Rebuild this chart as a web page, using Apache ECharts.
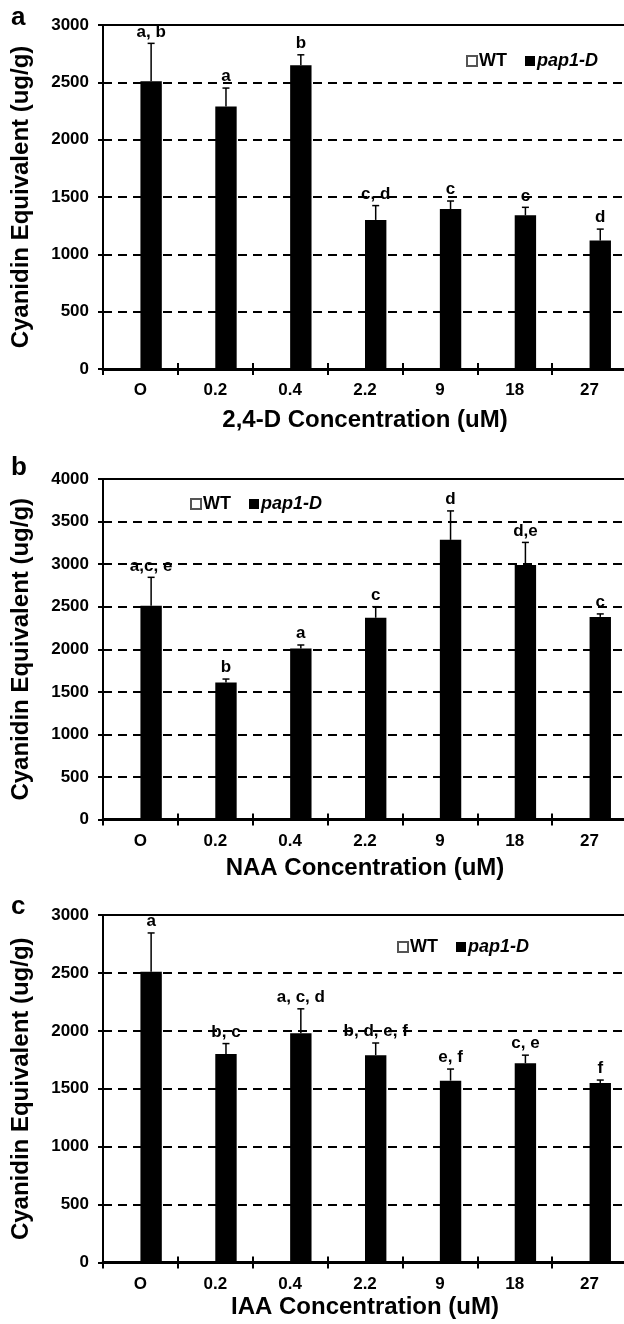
<!DOCTYPE html>
<html>
<head>
<meta charset="utf-8">
<script src="https://cdn.jsdelivr.net/npm/echarts@6/dist/echarts.min.js"></script>
<style>
html,body{margin:0;padding:0;background:#fff;}
#c{width:624px;height:1324px;}
</style>
</head>
<body>
<div id="c"></div>
<script>
// ---- data ----
const categories = ['O', '0.2', '0.4', '2.2', '9', '18', '27'];

const pap1D_24D = [2510, 2290, 2650, 1300, 1395, 1340, 1120];
const err_24D   = [330, 160, 90, 125, 70, 70, 100];
const letters_24D = ['a, b', 'a', 'b', 'c, d', 'c', 'c', 'd'];

const pap1D_NAA = [2510, 1610, 2010, 2370, 3285, 2990, 2380];
const err_NAA   = [335, 40, 40, 130, 340, 265, 35];
const letters_NAA = ['a,c, e', 'b', 'a', 'c', 'd', 'd,e', 'c'];

const pap1D_IAA = [2510, 1800, 1980, 1790, 1570, 1720, 1550];
const err_IAA   = [335, 90, 210, 105, 100, 70, 25];
const letters_IAA = ['a', 'b, c', 'a, c, d', 'b, d, e, f', 'e, f', 'c, e', 'f'];

const wtValues = [];   // WT bars are not drawn in the figure (legend only)

const yTicks_a = {min: 0, max: 3000, interval: 500};
const yTicks_b = {min: 0, max: 4000, interval: 500};
const yTicks_c = {min: 0, max: 3000, interval: 500};

// ---- layout / style ----
const FONT = '"Liberation Sans", Arial, sans-serif';
const CAT_GAP = 0.4286;                 // barCategoryGap fraction
const BAR_W = (1 - CAT_GAP) / 2;        // each bar fraction of band
const PAP_OFFSET = BAR_W / 2;           // pap1-D bar centre offset from band centre

const panels = [
  {top: 25,  height: 344, y: yTicks_a, vals: pap1D_24D, err: err_24D, letters: letters_24D,
   xname: '2,4-D Concentration (uM)', nameGap: 39, legend: {left: 466, top: 52}, tag: 'a', tagTop: 5},
  {top: 479, height: 340.5, y: yTicks_b, vals: pap1D_NAA, err: err_NAA, letters: letters_NAA,
   xname: 'NAA Concentration (uM)', nameGap: 37, legend: {left: 190, top: 495}, tag: 'b', tagTop: 455},
  {top: 915, height: 347.5, y: yTicks_c, vals: pap1D_IAA, err: err_IAA, letters: letters_IAA,
   xname: 'IAA Concentration (uM)', nameGap: 33, legend: {left: 397, top: 938}, tag: 'c', tagTop: 894}
];

const grids = [], xAxes = [], yAxes = [], series = [], legends = [], graphics = [];

panels.forEach(function (p, k) {
  grids.push({left: 103, width: 524, top: p.top, height: p.height, show: true,
    borderColor: '#000', borderWidth: 2, backgroundColor: 'transparent',
    containLabel: false, outerBoundsMode: 'none'});

  xAxes.push({gridIndex: k, type: 'category', data: categories, position: 'bottom',
    axisLine: {show: true, lineStyle: {color: '#000', width: 3}},
    axisTick: {show: true, length: 6, lineStyle: {color: '#000', width: 2}},
    axisLabel: {color: '#000', fontFamily: FONT, fontWeight: 'bold', fontSize: 17, margin: 13},
    name: p.xname, nameLocation: 'middle', nameGap: p.nameGap,
    nameTextStyle: {color: '#000', fontFamily: FONT, fontWeight: 'bold', fontSize: 24},
    splitLine: {show: false}, z: 5});
  // overlay axis giving the upward half of the crossing ticks
  xAxes.push({gridIndex: k, type: 'category', data: categories, position: 'bottom',
    axisLine: {show: false}, axisLabel: {show: false},
    axisTick: {show: true, inside: true, length: 6, lineStyle: {color: '#000', width: 2}},
    splitLine: {show: false}, z: 5});

  yAxes.push({gridIndex: k, type: 'value', min: p.y.min, max: p.y.max, interval: p.y.interval,
    axisLine: {show: true, lineStyle: {color: '#000', width: 2}},
    axisTick: {show: true, length: 5, lineStyle: {color: '#000', width: 2}},
    axisLabel: {color: '#000', fontFamily: FONT, fontWeight: 'bold', fontSize: 17, margin: 14,
      formatter: function (v) { return String(v); }},
    splitLine: {show: true, lineStyle: {color: '#000', width: 2, type: [9, 6]}},
    name: 'Cyanidin Equivalent (ug/g)', nameLocation: 'middle', nameRotate: 90, nameGap: 70,
    nameTextStyle: {color: '#000', fontFamily: FONT, fontWeight: 'bold', fontSize: 24}, z: 5});

  series.push({name: 'WT', type: 'bar', xAxisIndex: 2 * k, yAxisIndex: k, data: wtValues,
    barGap: '0%', barCategoryGap: (CAT_GAP * 100) + '%',
    itemStyle: {color: '#fff', borderColor: '#555', borderWidth: 1}});
  series.push({name: 'pap1-D', type: 'bar', xAxisIndex: 2 * k, yAxisIndex: k, data: p.vals,
    barGap: '0%', barCategoryGap: (CAT_GAP * 100) + '%',
    itemStyle: {color: '#000'}, z: 3});

  const errData = p.vals.map(function (v, i) { return [i, v, p.err[i]]; });
  const letters = p.letters;
  series.push({type: 'custom', xAxisIndex: 2 * k, yAxisIndex: k, data: errData,
    encode: {x: 0, y: 1}, z: 4, silent: true,
    renderItem: function (params, api) {
      const i = api.value(0), v = api.value(1), e = api.value(2);
      const base = api.coord([i, v]);
      const top = api.coord([i, v + e]);
      const band = api.size([1, 0])[0];
      const x = base[0] + band * PAP_OFFSET;
      const cap = 3.5;
      return {type: 'group', children: [
        {type: 'line', shape: {x1: x, y1: base[1], x2: x, y2: top[1]},
          style: {stroke: '#000', lineWidth: 1.5}},
        {type: 'line', shape: {x1: x - cap, y1: top[1], x2: x + cap, y2: top[1]},
          style: {stroke: '#000', lineWidth: 1.5}},
        {type: 'text', x: x, y: top[1] - 3,
          style: {text: letters[params.dataIndex], fill: '#000', align: 'center',
            verticalAlign: 'bottom', font: 'bold 17px ' + FONT}}
      ]};
    }});

  legends.push({data: ['WT', 'pap1-D'], left: p.legend.left, top: p.legend.top,
    orient: 'horizontal', icon: 'rect', itemWidth: 10, itemHeight: 10, itemGap: 18,
    padding: 0,
    formatter: function (name) { return name === 'pap1-D' ? '{i|pap1-D}' : name; },
    textStyle: {color: '#000', fontFamily: FONT, fontWeight: 'bold', fontSize: 18, padding: [0, 0, 0, -3],
      rich: {i: {fontStyle: 'italic', fontWeight: 'bold', fontFamily: FONT, fontSize: 18, color: '#000'}}}});

  graphics.push({type: 'text', left: 11, top: p.tagTop,
    style: {text: p.tag, fill: '#000', font: 'bold 26px ' + FONT}});
});

const chart = echarts.init(document.getElementById('c'), null, {renderer: 'canvas'});
chart.setOption({
  backgroundColor: '#fff',
  animation: false,
  grid: grids,
  xAxis: xAxes,
  yAxis: yAxes,
  legend: legends,
  series: series,
  graphic: graphics
});
</script>
</body>
</html>
